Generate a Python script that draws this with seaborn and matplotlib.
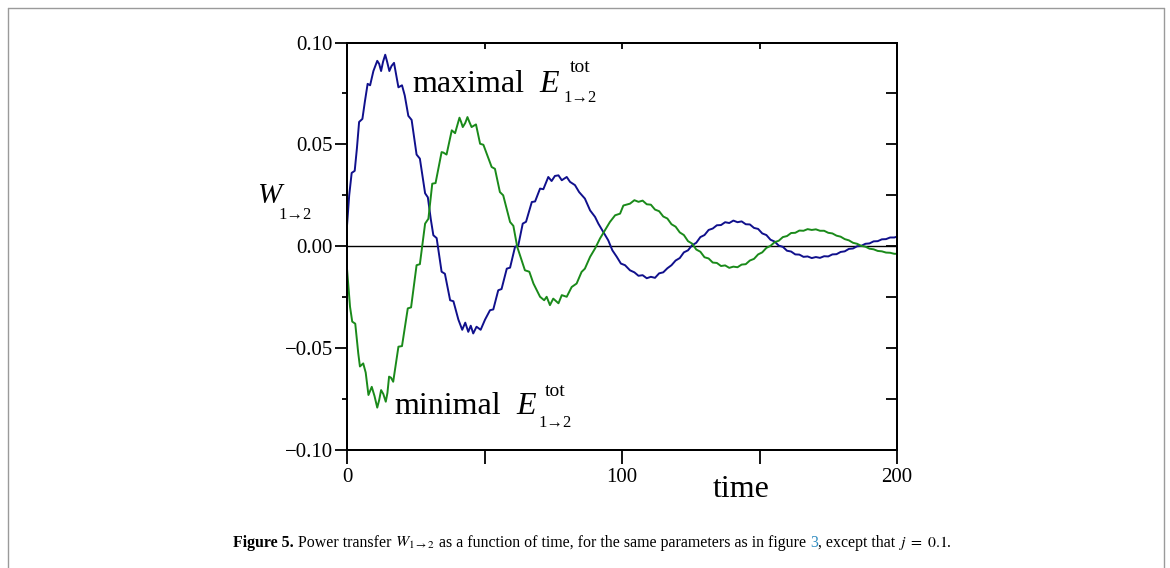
import matplotlib
matplotlib.use("Agg")
import matplotlib.pyplot as plt
import pandas as pd
import seaborn as sns

# curve: "maximal E" (blue)
t_max = [0.0, 0.8, 1.7, 2.8, 3.6, 4.4, 5.6, 6.5, 7.5, 8.4, 9.6, 11.0, 11.7, 12.4, 13.1,
         13.9, 14.6, 15.4, 16.2, 17.1, 18.7, 20.0, 21.0, 22.3, 23.5, 25.3, 26.5, 28.4,
         29.4, 30.5, 31.4, 32.6, 34.4, 35.6, 37.5, 38.7, 40.5, 41.9, 43.0, 44.1, 45.0,
         45.9, 47.1, 48.6, 50.2, 52.0, 53.2, 55.0, 56.2, 58.1, 59.3, 61.1, 62.3, 63.9,
         65.1, 67.2, 68.4, 70.2, 71.4, 73.2, 74.4, 75.6, 76.9, 78.1, 79.9, 81.1, 82.9,
         84.4, 86.5, 88.4, 90.2, 91.4, 93.2, 95.0, 96.5, 98.1, 99.6, 101.1, 102.9,
         104.5, 106.0, 107.5, 109.0, 110.5, 112.0, 113.5, 115.0, 116.5, 118.0, 119.5,
         121.0, 122.5, 124.0, 125.5, 127.0, 128.5, 130.0, 131.5, 133.0, 134.5, 136.0,
         137.5, 139.0, 140.5, 142.0, 143.5, 145.0, 146.5, 148.0, 149.5, 151.0, 152.5,
         154.0, 155.5, 157.0, 158.5, 160.0, 161.5, 163.0, 164.5, 166.0, 167.5, 169.0,
         170.5, 172.0, 173.5, 175.0, 176.5, 178.0, 179.5, 181.0, 182.5, 184.0, 185.5,
         187.0, 188.5, 190.0, 191.5, 193.0, 194.5, 196.0, 197.5, 199.0, 200.0]
w_max = [0.010, 0.025, 0.036, 0.037, 0.048, 0.061, 0.0625, 0.071, 0.0797, 0.079, 0.086,
         0.091, 0.0895, 0.086, 0.0905, 0.094, 0.0905, 0.086, 0.0885, 0.090, 0.078,
         0.079, 0.074, 0.064, 0.062, 0.045, 0.043, 0.026, 0.024, 0.013, 0.0054, 0.004,
         -0.0125, -0.0135, -0.0265, -0.027, -0.036, -0.041, -0.0375, -0.042, -0.039,
         -0.0428, -0.0395, -0.041, -0.036, -0.0314, -0.031, -0.0216, -0.021, -0.011,
         -0.0105, -0.0003, 0.0005, 0.0111, 0.012, 0.0217, 0.022, 0.0283, 0.028, 0.034,
         0.032, 0.0345, 0.0348, 0.0324, 0.034, 0.0316, 0.030, 0.0266, 0.0234, 0.0176,
         0.0144, 0.0111, 0.0070, 0.0029, -0.002, -0.0052, -0.0085, -0.0093, -0.0118,
         -0.0128, -0.0145, -0.0142, -0.0157, -0.0150, -0.0155, -0.0133, -0.0128,
         -0.0108, -0.0093, -0.0070, -0.0058, -0.0030, -0.0020, 0.0005, 0.0017, 0.0045,
         0.0055, 0.0080, 0.0087, 0.0103, 0.0104, 0.0118, 0.0114, 0.0126, 0.0118,
         0.0122, 0.0108, 0.0107, 0.0090, 0.0085, 0.0063, 0.0055, 0.0032, 0.0023,
         0.0003, -0.0003, -0.0022, -0.0026, -0.0040, -0.0041, -0.0052, -0.0050,
         -0.0058, -0.0053, -0.0057, -0.0049, -0.0050, -0.0040, -0.0039, -0.0028,
         -0.0025, -0.0013, -0.0011, 0.0000, 0.0002, 0.0012, 0.0014, 0.0024, 0.0025,
         0.0034, 0.0035, 0.0043, 0.0043, 0.0047]

# curve: "minimal E" (green)
t_min = [0.0, 1.1, 1.9, 3.0, 4.1, 4.7, 5.9, 6.8, 7.8, 9.0, 10.0, 11.0, 11.7, 12.4, 13.2,
         14.1, 14.7, 15.3, 16.0, 16.8, 18.7, 20.0, 22.1, 23.3, 25.3, 26.5, 28.4, 29.6,
         31.0, 32.2, 34.4, 35.0, 36.2, 38.1, 39.3, 40.9, 41.5, 42.1, 43.0, 43.8, 44.5,
         45.3, 46.9, 48.4, 49.6, 52.6, 53.8, 55.6, 56.8, 59.3, 60.5, 61.9, 63.5, 64.7,
         66.3, 67.8, 70.2, 71.7, 72.6, 73.8, 75.0, 76.9, 78.1, 79.9, 81.7, 83.5, 85.3,
         86.5, 88.4, 90.2, 92.0, 93.8, 95.6, 97.5, 99.3, 100.5, 102.9, 104.5, 106.0,
         107.5, 109.0, 110.5, 112.0, 113.5, 115.0, 116.5, 118.0, 119.5, 121.0, 122.5,
         124.0, 125.5, 127.0, 128.5, 130.0, 131.5, 133.0, 134.5, 136.0, 137.5, 139.0,
         140.5, 142.0, 143.5, 145.0, 146.5, 148.0, 149.5, 151.0, 152.5, 154.0, 155.5,
         157.0, 158.5, 160.0, 161.5, 163.0, 164.5, 166.0, 167.5, 169.0, 170.5, 172.0,
         173.5, 175.0, 176.5, 178.0, 179.5, 181.0, 182.5, 184.0, 185.5, 187.0, 188.5,
         190.0, 191.5, 193.0, 194.5, 196.0, 197.5, 199.0, 200.0]
w_min = [-0.011, -0.0297, -0.037, -0.038, -0.0526, -0.059, -0.0575, -0.062, -0.073,
         -0.069, -0.0735, -0.0792, -0.0755, -0.0706, -0.0725, -0.0763, -0.0720, -0.064,
         -0.0645, -0.0665, -0.0493, -0.049, -0.0305, -0.030, -0.0093, -0.0088, 0.0111,
         0.0135, 0.0307, 0.031, 0.0462, 0.046, 0.045, 0.0569, 0.0555, 0.0631, 0.0610,
         0.0585, 0.0605, 0.0634, 0.0610, 0.0585, 0.0598, 0.0503, 0.0498, 0.0389, 0.038,
         0.0266, 0.025, 0.0119, 0.010, -0.0003, -0.0069, -0.0118, -0.0125, -0.0183,
         -0.0248, -0.0265, -0.0248, -0.0289, -0.0257, -0.028, -0.024, -0.0248, -0.020,
         -0.0183, -0.0126, -0.011, -0.0052, -0.0011, 0.0038, 0.0078, 0.0119, 0.0152,
         0.016, 0.020, 0.0209, 0.0226, 0.0218, 0.0224, 0.0206, 0.0204, 0.0180, 0.0172,
         0.0146, 0.0136, 0.0108, 0.0096, 0.0068, 0.0055, 0.0025, 0.0013, -0.0016,
         -0.0027, -0.0054, -0.0060, -0.0080, -0.0082, -0.0097, -0.0094, -0.0106,
         -0.0100, -0.0103, -0.0090, -0.0088, -0.0070, -0.0062, -0.0040, -0.0030,
         -0.0008, 0.0002, 0.0020, 0.0027, 0.0045, 0.0050, 0.0065, 0.0066, 0.0077,
         0.0076, 0.0084, 0.0080, 0.0083, 0.0076, 0.0076, 0.0066, 0.0063, 0.0052,
         0.0047, 0.0035, 0.0029, 0.0017, 0.0012, 0.0002, -0.0002, -0.0012, -0.0015,
         -0.0023, -0.0025, -0.0031, -0.0032, -0.0037, -0.0037]

x_ticks = [0, 50, 100, 150, 200]
x_ticklabels = ["0", "", "100", "", "200"]
y_ticks = [-0.10, -0.05, 0.00, 0.05, 0.10]
y_ticklabels = ["\u22120.10", "\u22120.05", "0.00", "0.05", "0.10"]
y_minor = [-0.075, -0.025, 0.025, 0.075]
y_right = [-0.10, -0.075, -0.05, -0.025, 0.0, 0.025, 0.05, 0.075, 0.10]

sns.set_style("ticks")
plt.rcParams["font.family"] = ["Liberation Serif", "DejaVu Serif"]
plt.rcParams["mathtext.fontset"] = "stix"
for k in ["text.color", "axes.labelcolor", "xtick.color", "ytick.color", "axes.edgecolor"]:
    plt.rcParams[k] = "black"

W, H = 1170, 568
fig = plt.figure(figsize=(W / 100, H / 100), dpi=100)
ax = fig.add_axes([347 / W, 1 - 450 / H, 550 / W, 407.5 / H])

df_max = pd.DataFrame({"time": t_max, "W": w_max})
df_min = pd.DataFrame({"time": t_min, "W": w_min})
blue = "#10108c"
green = "#1a8a1a"
line_kw = dict(lw=1.4, estimator=None, sort=False, solid_joinstyle="round")
sns.lineplot(data=df_max, x="time", y="W", color=blue, ax=ax, **line_kw)
sns.lineplot(data=df_min, x="time", y="W", color=green, ax=ax, **line_kw)
ax.axhline(0, color="black", lw=1.0, zorder=1)

ax.set_xlim(0, 200)
ax.set_ylim(-0.1, 0.1)
ax.set_xlabel("")
ax.set_ylabel("")
ax.set_xticks(x_ticks)
ax.set_xticklabels(x_ticklabels)
ax.set_yticks(y_ticks)
ax.set_yticklabels(y_ticklabels)
ax.set_yticks(y_minor, minor=True)
ax.tick_params(axis="x", direction="out", length=10, width=1.3, labelsize=15, pad=3)
ax.tick_params(axis="y", which="major", direction="out", length=9, width=1.3,
               labelsize=15, pad=1)
ax.tick_params(axis="y", which="minor", direction="out", length=3.5, width=1.3)
for s in ax.spines.values():
    s.set_visible(True)
    s.set_linewidth(1.4)

# mirrored ticks pointing inward on right and top
ax_r = ax.twinx()
ax_r.set_ylim(-0.1, 0.1)
ax_r.set_yticks(y_right)
ax_r.tick_params(axis="y", direction="in", length=8, width=1.3, labelright=False)
ax_t = ax.twiny()
ax_t.set_xlim(0, 200)
ax_t.set_xticks(x_ticks)
ax_t.tick_params(axis="x", direction="in", length=4, width=1.3, labeltop=False)
for a in (ax_r, ax_t):
    for s in a.spines.values():
        s.set_linewidth(1.4)


def px(x, y):
    return x / W, 1 - y / H


fig.text(*px(741, 497), "time", fontsize=23, ha="center", va="baseline")
fig.text(*px(257, 203), "W", fontsize=21, style="italic", ha="left", va="baseline")
fig.text(*px(295, 215), "1\u21922", fontsize=12, ha="center", va="center")

fig.text(*px(412, 92), "maximal", fontsize=23, ha="left", va="baseline")
fig.text(*px(539, 92), "E", fontsize=23, style="italic", ha="left", va="baseline")
fig.text(*px(580, 68), "tot", fontsize=14, ha="center", va="center")
fig.text(*px(580, 98), "1\u21922", fontsize=12, ha="center", va="center")

fig.text(*px(394, 414), "minimal", fontsize=23, ha="left", va="baseline")
fig.text(*px(516, 414), "E", fontsize=23, style="italic", ha="left", va="baseline")
fig.text(*px(555, 392), "tot", fontsize=14, ha="center", va="center")
fig.text(*px(555, 423), "1\u21922", fontsize=12, ha="center", va="center")

# caption, assembled piece by piece
pieces = [
    ("Figure 5.", {"fontweight": "bold"}),
    (" Power transfer ", {}),
    (r"$W_{1\to 2}$", {}),
    (" as a function of time, for the same parameters as in figure ", {}),
    ("3", {"color": "#2e8bc0"}),
    (", except that ", {}),
    (r"$j\;=\;0.1$", {}),
    (".", {}),
]
renderer = fig.canvas.get_renderer()
xpos = 233
for text, kw in pieces:
    t = fig.text(*px(xpos, 547), text, fontsize=11.4, ha="left", va="baseline", **kw)
    bb = t.get_window_extent(renderer)
    xpos = bb.x1

# page frame
frame_kw = dict(color="#9a9a9a", lw=1.0, transform=fig.transFigure)
fig.add_artist(plt.Line2D([8 / W, 8 / W], [0, 1 - 8 / H], **frame_kw))
fig.add_artist(plt.Line2D([1164 / W, 1164 / W], [0, 1 - 8 / H], **frame_kw))
fig.add_artist(plt.Line2D([8 / W, 1164 / W], [1 - 8 / H, 1 - 8 / H], **frame_kw))

fig.savefig("out.png", dpi=100)
